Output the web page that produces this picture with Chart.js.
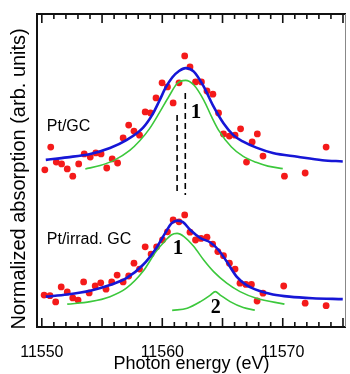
<!DOCTYPE html>
<html>
<head>
<meta charset="utf-8">
<script src="https://cdn.jsdelivr.net/npm/chart.js@4.4.1/dist/chart.umd.min.js"></script>
<style>
  html, body { margin: 0; padding: 0; background: #fff; }
</style>
</head>
<body>
<canvas id="xas" width="350" height="374"></canvas>
<script>
// Pt/GC spectrum (upper trace)
var gcDotE = [11550.25, 11550.74, 11551.2, 11551.64, 11552.11, 11552.57, 11553.06, 11553.52, 11554.02, 11554.48,
    11554.92, 11555.39, 11555.84, 11556.29, 11556.75, 11557.21, 11557.65, 11558.11, 11558.58, 11559.02,
    11559.48, 11559.98, 11560.43, 11560.9, 11561.39, 11561.86, 11562.3, 11562.76, 11563.25, 11563.71,
    11564.2, 11564.67, 11565.08, 11565.57, 11566.04, 11566.5, 11566.99, 11567.46, 11567.89, 11568.36,
    11570.14, 11571.86, 11573.6];
var gcDotY = [5.02, 5.75, 5.27, 5.21, 5.05, 4.82, 5.21, 5.53, 5.43, 5.56,
    5.53, 5.08, 5.37, 5.24, 6.04, 6.45, 6.26, 6.13, 6.87, 6.84,
    7.32, 7.80, 7.67, 7.16, 7.80, 8.66, 8.31, 7.83, 7.83, 7.54,
    7.44, 6.84, 6.17, 6.10, 6.13, 6.33, 5.27, 5.91, 6.17, 5.46,
    4.82, 4.92, 5.75];
var gcFitE = [11550.33, 11552.11, 11554.02, 11555.66, 11557.02, 11558.39, 11559.2, 11559.75, 11560.3, 11560.84,
    11561.39, 11561.93, 11562.62, 11563.44, 11564.26, 11565.08, 11565.9, 11566.72, 11567.81, 11569.18,
    11571.23, 11573.28, 11574.98];
var gcFitY = [5.34, 5.42, 5.53, 5.72, 5.97, 6.36, 6.80, 7.22, 7.66, 7.98,
    8.18, 8.27, 8.16, 7.68, 7.04, 6.51, 6.13, 5.92, 5.73, 5.56,
    5.44, 5.33, 5.29];
var gcPeak1E = [11553.61, 11554.84, 11556.07, 11557.3, 11558.11, 11558.93, 11559.75, 11560.57, 11561.23, 11561.93,
    11562.62, 11563.44, 11564.1, 11564.67, 11565.74, 11566.72, 11567.79, 11568.77, 11570.0];
var gcPeak1Y = [5.05, 5.16, 5.34, 5.64, 5.94, 6.33, 6.84, 7.38, 7.78, 7.88,
    7.73, 7.25, 6.71, 6.29, 5.75, 5.45, 5.26, 5.14, 5.06];

// Pt/irrad. GC spectrum (lower trace)
var irrDotE = [11550.19, 11550.68, 11551.15, 11551.61, 11552.11, 11552.57, 11553.01, 11553.47, 11553.93, 11554.43,
    11554.89, 11555.33, 11555.8, 11556.25, 11556.75, 11557.21, 11557.65, 11558.11, 11558.58, 11559.07,
    11559.53, 11560.02, 11560.43, 11560.9, 11561.39, 11561.86, 11562.3, 11562.76, 11563.22, 11563.71,
    11564.18, 11564.61, 11565.08, 11565.57, 11566.04, 11566.45, 11566.94, 11567.4, 11567.87, 11568.36,
    11570.08, 11571.86, 11573.6];
var irrDotY = [1.02, 1.00, 0.80, 1.28, 1.12, 0.93, 0.86, 1.44, 1.09, 1.31,
    1.41, 1.21, 1.44, 1.66, 1.44, 1.63, 2.04, 1.85, 2.56, 2.33,
    2.56, 2.78, 3.04, 3.42, 3.36, 3.58, 3.03, 2.78, 2.83, 2.87,
    2.65, 2.41, 2.28, 2.04, 1.85, 1.40, 1.36, 1.36, 0.83, 1.08,
    1.31, 0.76, 0.68];
var irrFitE = [11550.33, 11552.11, 11554.02, 11555.66, 11557.02, 11558.39, 11559.48, 11560.3, 11560.74, 11561.23,
    11561.72, 11562.35, 11563.17, 11563.99, 11564.67, 11565.35, 11566.17, 11566.99, 11568.09, 11569.18,
    11570.55, 11572.46, 11574.98];
var irrFitY = [0.97, 1.04, 1.16, 1.34, 1.56, 1.98, 2.51, 3.04, 3.30, 3.40,
    3.35, 3.09, 2.84, 2.70, 2.46, 2.09, 1.61, 1.34, 1.15, 1.04,
    0.97, 0.92, 0.89];
var irrPeak1E = [11552.11, 11554.02, 11555.66, 11557.02, 11558.39, 11559.48, 11560.3, 11560.74, 11561.23, 11561.8,
    11562.62, 11563.44, 11564.26, 11565.35, 11566.45, 11567.81, 11570.14];
var irrPeak1Y = [0.73, 0.81, 0.97, 1.24, 1.77, 2.41, 2.78, 2.94, 2.99, 2.89,
    2.57, 2.14, 1.77, 1.40, 1.13, 0.92, 0.73];
var irrPeak2E = [11560.82, 11562.07, 11563.17, 11563.99, 11564.4, 11564.81, 11565.63, 11566.72, 11567.68];
var irrPeak2Y = [0.53, 0.60, 0.81, 1.02, 1.13, 1.02, 0.81, 0.62, 0.54];

// peak-position markers (dashed)
var markerE = [11561.91, 11561.23];
var markerTop = [7.48, 6.77];
var markerBottom = [4.22, 4.22];

var xTickLabels = [11550, 11560, 11570];

var RED = '#f41a1a';
var BLUE = '#1616d6';
var GREEN = '#3cc83c';
var SANS = '"Liberation Sans", Arial, sans-serif';
var SERIF = '"Liberation Serif", "Times New Roman", serif';

function zip(xs, ys) {
    var out = [];
    for (var i = 0; i < xs.length; i++) {
        out.push({x: xs[i], y: ys[i]});
    }
    return out;
}

function dots(xs, ys) {
    return {
        data: zip(xs, ys),
        showLine: false,
        pointRadius: 3.4,
        pointBackgroundColor: RED,
        pointBorderWidth: 0,
        order: 3
    };
}

function curve(xs, ys, color, width, order) {
    return {
        data: zip(xs, ys),
        showLine: true,
        borderColor: color,
        borderWidth: width,
        pointRadius: 0,
        cubicInterpolationMode: 'monotone',
        fill: false,
        order: order
    };
}

function marker(i) {
    return {
        data: [{x: markerE[i], y: markerTop[i]}, {x: markerE[i], y: markerBottom[i]}],
        showLine: true,
        borderColor: '#000',
        borderWidth: 1.6,
        borderDash: [6, 4],
        pointRadius: 0,
        tension: 0,
        order: 4
    };
}

// text placed in data coordinates
var notes = [
    {text: 'Pt/GC', x: 11550.41, y: 6.39, font: '16px ' + SANS, align: 'left'},
    {text: 'Pt/irrad. GC', x: 11550.41, y: 2.78, font: '16px ' + SANS, align: 'left'},
    {text: '1', x: 11562.79, y: 6.84, font: 'bold 21px ' + SERIF, align: 'center'},
    {text: '1', x: 11561.31, y: 2.52, font: 'bold 21px ' + SERIF, align: 'center'},
    {text: '2', x: 11564.43, y: 0.61, font: 'bold 20px ' + SERIF, align: 'center'}
];

var notesPlugin = {
    id: 'notes',
    afterDatasetsDraw: function (chart) {
        var ctx = chart.ctx;
        var xs = chart.scales.x, ys = chart.scales.y;
        ctx.save();
        ctx.fillStyle = '#000';
        ctx.textBaseline = 'middle';
        notes.forEach(function (n) {
            ctx.font = n.font;
            ctx.textAlign = n.align;
            ctx.fillText(n.text, xs.getPixelForValue(n.x), ys.getPixelForValue(n.y));
        });
        ctx.restore();
    }
};

// box frame with inward ticks on top and bottom
var framePlugin = {
    id: 'frame',
    afterDraw: function (chart) {
        var ctx = chart.ctx;
        var a = chart.chartArea;
        var xs = chart.scales.x;
        ctx.save();
        ctx.strokeStyle = '#111';
        ctx.lineWidth = 2;
        ctx.beginPath();
        ctx.moveTo(a.right, a.top);
        ctx.lineTo(a.left, a.top);
        ctx.lineTo(a.left, a.bottom);
        ctx.lineTo(a.right, a.bottom);
        ctx.stroke();
        ctx.strokeStyle = '#888';
        ctx.lineWidth = 1;
        ctx.beginPath();
        ctx.moveTo(a.right - 0.5, a.top);
        ctx.lineTo(a.right - 0.5, a.bottom);
        ctx.stroke();
        ctx.strokeStyle = '#111';
        ctx.lineWidth = 1.6;
        for (var e = 11550; e <= 11575; e++) {
            var px = xs.getPixelForValue(e);
            var len = (e % 5 === 0) ? 9 : 5;
            ctx.beginPath();
            ctx.moveTo(px, a.bottom);
            ctx.lineTo(px, a.bottom - len);
            ctx.moveTo(px, a.top);
            ctx.lineTo(px, a.top + len);
            ctx.stroke();
        }
        ctx.restore();
    }
};

new Chart(document.getElementById('xas'), {
    type: 'scatter',
    data: {
        datasets: [
            dots(gcDotE, gcDotY),
            curve(gcFitE, gcFitY, BLUE, 2.6, 1),
            curve(gcPeak1E, gcPeak1Y, GREEN, 1.6, 2),
            dots(irrDotE, irrDotY),
            curve(irrFitE, irrFitY, BLUE, 2.6, 1),
            curve(irrPeak1E, irrPeak1Y, GREEN, 1.6, 2),
            curve(irrPeak2E, irrPeak2Y, GREEN, 1.6, 2),
            marker(0),
            marker(1)
        ]
    },
    options: {
        responsive: false,
        animation: false,
        layout: {padding: {top: 14, right: 1, left: 0, bottom: 0}},
        plugins: {legend: {display: false}, tooltip: {enabled: false}},
        scales: {
            x: {
                type: 'linear',
                position: 'bottom',
                min: 11549.6,
                max: 11575.25,
                grid: {display: false},
                border: {display: false},
                afterBuildTicks: function (s) {
                    s.ticks = xTickLabels.map(function (v) { return {value: v}; });
                },
                afterFit: function (s) { s.height = 47; },
                ticks: {
                    autoSkip: false,
                    maxRotation: 0,
                    padding: 8,
                    color: '#000',
                    font: {family: SANS, size: 16},
                    callback: function (v) { return String(v); }
                },
                title: {
                    display: true,
                    text: 'Photon energy (eV)',
                    color: '#000',
                    font: {family: SANS, size: 18, lineHeight: 1.1},
                    padding: {top: 0, bottom: 0}
                }
            },
            y: {
                type: 'linear',
                position: 'left',
                min: 0,
                max: 10,
                grid: {display: false},
                border: {display: false},
                ticks: {display: false},
                afterFit: function (s) { s.width = 37; },
                title: {
                    display: true,
                    // trailing spaces nudge the centred title down a little
                    text: 'Normalized absorption (arb. units)\u00a0\u00a0\u00a0',
                    color: '#000',
                    font: {family: SANS, size: 20, lineHeight: 1.1},
                    padding: {top: 8, bottom: 0}
                }
            }
        }
    },
    plugins: [notesPlugin, framePlugin]
});
</script>
</body>
</html>
